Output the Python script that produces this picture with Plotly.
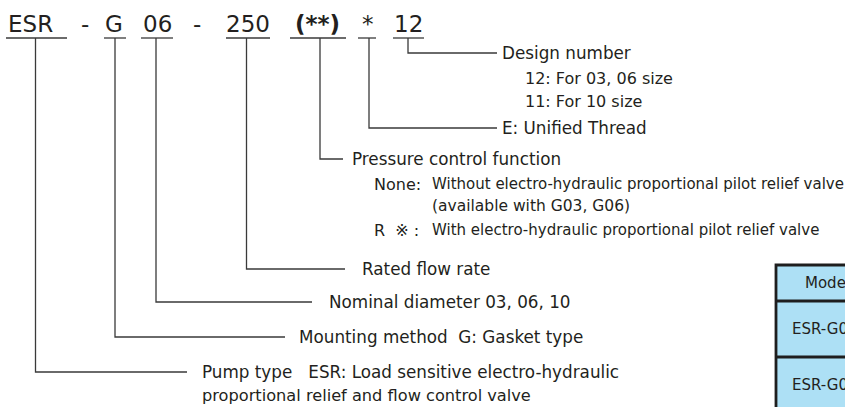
import plotly.graph_objects as go

W, H = 845, 407
FONT = "DejaVu Sans, Verdana, sans-serif"
TXT = "#231f20"
LINE = "#3a3a3a"

# model code segments
seg_text = ["ESR", "G", "06", "250", "<b>(**)</b>", "*", "12"]
seg_textx = [30.5, 113.5, 157, 247.5, 317, 367.5, 408]
seg_ul0 = [6, 104, 141, 226, 290, 358, 393]
seg_ul1 = [67, 126, 173, 270, 346, 376, 424]
seg_stem = [35.5, 115, 156, 246.5, 320, 369, 408]
dash_x = [84.5, 197]

# callouts: y of elbow, end x of horizontal leader, label x
call_y = [372, 337, 302, 269, 159, 128, 53]
call_end = [187, 285, 312, 345, 343, 497, 497]
call_labx = [200, 297, 327, 360, 350, 500, 500]
call_lab = [
    "Pump type   ESR: Load sensitive electro-hydraulic",
    "Mounting method  G: Gasket type",
    "Nominal diameter 03, 06, 10",
    "Rated flow rate",
    "Pressure control function",
    "E: Unified Thread",
    "Design number",
]

# sub-lines (x, y, text, size)
sub_x = [200, 523, 523, 372, 430, 372, 430, 430]
sub_y = [395, 78, 101, 184, 206, 230, 184, 230]
sub_t = [
    "proportional relief and flow control valve",
    "12: For 03, 06 size",
    "11: For 10 size",
    "None:",
    "(available with G03, G06)",
    "R  ※ :",
    "Without electro-hydraulic proportional pilot relief valve",
    "With electro-hydraulic proportional pilot relief valve",
]
sub_s = [16.2, 16, 16, 16, 15.5, 16, 15, 15]

# table (cut off at right/bottom)
tbl_rows = [265, 301, 357, 413]
tbl_text = ["Model", "ESR-G03", "ESR-G06"]
tbl_tx = [803, 790, 790]

fig = go.Figure()
shapes = []
annots = []

UL_Y = 38
for t, tx, a, b, s in zip(seg_text, seg_textx, seg_ul0, seg_ul1, seg_stem):
    annots.append(dict(x=tx, y=24, text=t, showarrow=False, xanchor="center",
                       yanchor="middle",
                       font=dict(family=FONT, size=23, color=TXT)))
    shapes.append(dict(type="line", x0=a, x1=b, y0=UL_Y, y1=UL_Y,
                       line=dict(color=LINE, width=1.3)))
for dx in dash_x:
    annots.append(dict(x=dx, y=24, text="-", showarrow=False, xanchor="center",
                       yanchor="middle",
                       font=dict(family=FONT, size=23, color=TXT)))

for s, cy, ce, lx, lab in zip(seg_stem, call_y, call_end, call_labx, call_lab):
    shapes.append(dict(type="path",
                       path=f"M {s} {UL_Y} L {s} {cy} L {ce} {cy}",
                       line=dict(color=LINE, width=1.3)))
    annots.append(dict(x=lx, y=cy, text=lab, showarrow=False, xanchor="left",
                       yanchor="middle", font=dict(family=FONT, size=16.8, color=TXT)))

for x, y, t, sz in zip(sub_x, sub_y, sub_t, sub_s):
    annots.append(dict(x=x, y=y, text=t, showarrow=False, xanchor="left",
                       yanchor="middle", font=dict(family=FONT, size=sz, color=TXT)))

# table
shapes.append(dict(type="rect", x0=776, x1=1000, y0=tbl_rows[0], y1=tbl_rows[-1],
                   fillcolor="#ade0f5", line=dict(color="#1e1e1e", width=2.8),
                   layer="below"))
for ry in tbl_rows[1:-1]:
    shapes.append(dict(type="line", x0=776, x1=1000, y0=ry, y1=ry,
                       line=dict(color="#1e1e1e", width=2.8)))
for i, (t, tx) in enumerate(zip(tbl_text, tbl_tx)):
    cy = (tbl_rows[i] + tbl_rows[i + 1]) / 2
    annots.append(dict(x=tx, y=cy, text=t, showarrow=False, xanchor="left",
                       yanchor="middle", font=dict(family=FONT, size=15, color=TXT)))

fig.update_layout(
    width=W, height=H,
    margin=dict(l=0, r=0, t=0, b=0),
    paper_bgcolor="white", plot_bgcolor="white",
    xaxis=dict(range=[0, W], visible=False, fixedrange=True),
    yaxis=dict(range=[H, 0], visible=False, fixedrange=True),
    shapes=shapes, annotations=annots, showlegend=False,
)
fig.write_html("out.html", config={"displayModeBar": False},
               post_script="document.body.style.margin='0';document.body.style.overflow='hidden';")
